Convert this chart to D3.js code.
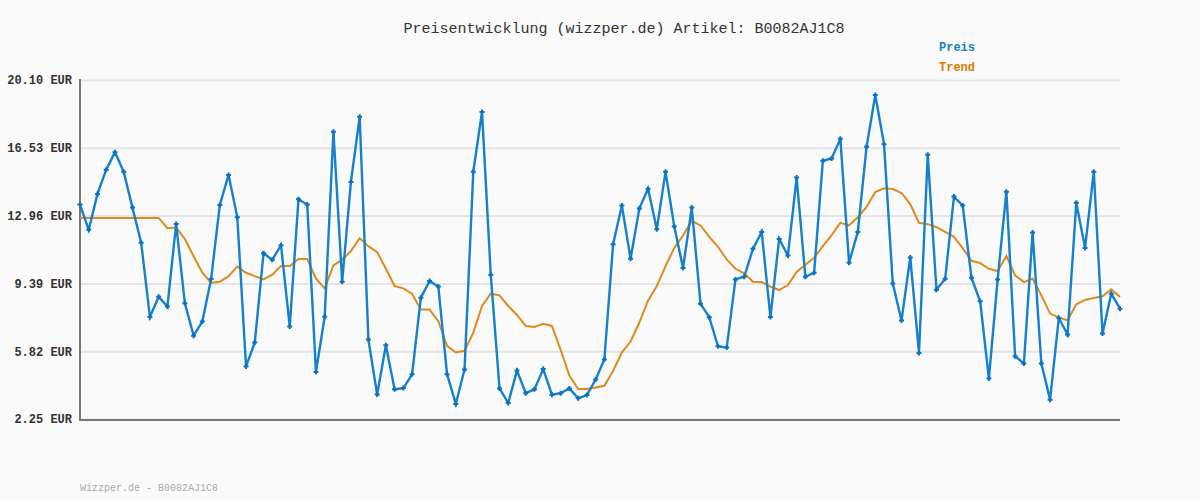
<!DOCTYPE html>
<html><head><meta charset="utf-8">
<script src="https://cdn.jsdelivr.net/npm/d3@7"></script>
<style>body{margin:0;background:#fafafa;}svg{display:block;}</style>
</head><body>
<svg id="c" width="1200" height="500"></svg>
<script>
const title = "Preisentwicklung (wizzper.de) Artikel: B0082AJ1C8";
const footer = "Wizzper.de - B0082AJ1C8";
const seriesNames = ["Preis", "Trend"];
const tickValues = [2.25, 5.82, 9.39, 12.96, 16.53, 20.10];
const tickLabels = ["2.25 EUR", "5.82 EUR", "9.39 EUR", "12.96 EUR", "16.53 EUR", "20.10 EUR"];
const preis = [13.54,12.21,14.10,15.38,16.30,15.27,13.38,11.53,7.62,8.69,
  8.17,12.52,8.34,6.64,7.38,9.62,13.52,15.10,12.87,5.02,
  6.28,10.98,10.63,11.40,7.12,13.82,13.54,4.73,7.64,17.37,
  9.48,14.73,18.16,6.43,3.54,6.13,3.81,3.88,4.60,8.64,
  9.51,9.23,4.61,3.04,4.86,15.27,18.42,9.85,3.86,3.09,
  4.80,3.61,3.81,4.88,3.53,3.61,3.86,3.34,3.51,4.33,
  5.38,11.45,13.49,10.69,13.33,14.38,12.24,15.27,12.38,10.20,
  13.38,8.32,7.61,6.08,6.01,9.60,9.74,11.21,12.10,7.62,
  11.73,10.86,14.96,9.74,9.95,15.85,15.97,17.00,10.48,12.10,
  16.58,19.31,16.72,9.39,7.43,10.76,5.73,16.16,9.06,9.64,
  13.96,13.49,9.69,8.45,4.38,9.60,14.22,5.56,5.17,12.07,
  5.17,3.27,7.57,6.70,13.64,11.26,15.27,6.75,8.85,8.06];
const trend = [12.84,12.84,12.84,12.84,12.84,12.84,12.84,12.84,12.84,12.84,
  12.30,12.33,11.73,10.82,9.95,9.42,9.48,9.77,10.28,9.95,
  9.77,9.60,9.85,10.30,10.30,10.67,10.67,9.64,9.13,10.34,
  10.65,11.09,11.77,11.35,11.04,10.16,9.25,9.13,8.83,8.01,
  8.01,7.40,6.10,5.75,5.84,6.80,8.20,8.85,8.76,8.20,
  7.73,7.15,7.10,7.26,7.15,5.89,4.52,3.83,3.83,3.91,
  4.00,4.79,5.75,6.33,7.33,8.48,9.25,10.30,11.26,11.91,
  12.68,12.44,11.84,11.32,10.65,10.16,9.92,9.48,9.46,9.22,
  9.04,9.30,9.99,10.37,10.74,11.35,11.93,12.58,12.45,12.87,
  13.42,14.20,14.40,14.36,14.15,13.57,12.58,12.51,12.35,12.10,
  11.84,11.25,10.58,10.46,10.16,10.04,10.83,9.81,9.46,9.65,
  8.76,7.80,7.59,7.45,8.29,8.52,8.62,8.71,9.08,8.67];

const svg = d3.select("#c");
const L = 80, R = 1120, T = 80, B = 419;
const x = d3.scaleLinear().domain([0, preis.length - 1]).range([L, R]);
const y = d3.scaleLinear().domain([2.25, 20.10]).range([B, T]);
const mono = "'Liberation Mono','DejaVu Sans Mono',monospace";

svg.append("rect").attr("width", 1200).attr("height", 500).attr("fill", "#fafafa");

// gridlines
const yAxis = d3.axisLeft(y).tickValues(tickValues).tickSize(-(R - L)).tickFormat((d, i) => tickLabels[i]).tickPadding(8);
const gy = svg.append("g").attr("transform", `translate(${L},0)`).call(yAxis);
gy.select(".domain").remove();
gy.selectAll(".tick line").attr("stroke", "#e4e4e4").attr("stroke-width", 2);
gy.selectAll(".tick text").attr("font-family", mono).attr("font-size", 12).attr("font-weight", "bold").attr("fill", "#333").attr("x", -8);

// axes lines
svg.append("line").attr("x1", L).attr("x2", L).attr("y1", T - 1).attr("y2", B + 1).attr("stroke", "#777").attr("stroke-width", 2);
svg.append("line").attr("x1", L - 1).attr("x2", R).attr("y1", B + 1).attr("y2", B + 1).attr("stroke", "#777").attr("stroke-width", 2);

// trend
const line = d3.line().x((d, i) => x(i)).y(d => y(d));
svg.append("path").datum(trend).attr("d", line).attr("fill", "none").attr("stroke", "#e08a1e").attr("stroke-width", 2);
// preis
svg.append("path").datum(preis).attr("d", line).attr("fill", "none").attr("stroke", "#1580cc").attr("stroke-width", 2.4);
const mk = svg.append("g");
mk.selectAll("path").data(preis).join("path")
  .attr("d", (d, i) => { const cx = x(i), cy = y(d); return `M${cx-2.5},${cy}H${cx+2.5}M${cx},${cy-2.5}V${cy+2.5}`; })
  .attr("stroke", "#0a72c0").attr("stroke-width", 2);

// title
svg.append("text").attr("x", 624).attr("y", 33).attr("text-anchor", "middle")
  .attr("font-family", mono).attr("font-size", 15).attr("fill", "#333").text(title);
// legend
const legColors = ["#1a80c8", "#dd7a00"];
seriesNames.forEach((n, i) => {
  svg.append("text").attr("x", 939).attr("y", 51 + i * 20).attr("font-family", mono).attr("font-size", 12)
    .attr("font-weight", "bold").attr("fill", legColors[i]).text(n);
});
// footer
svg.append("text").attr("x", 80).attr("y", 491).attr("font-family", mono).attr("font-size", 10).attr("fill", "#aaa").text(footer);
</script>
</body></html>
